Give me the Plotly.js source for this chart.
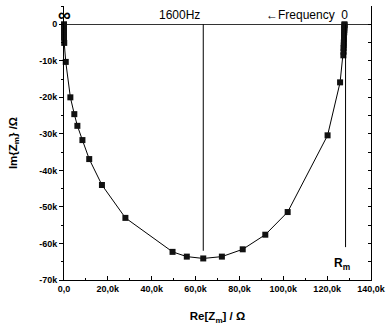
<!DOCTYPE html>
<html><head><meta charset="utf-8">
<script src="https://cdn.plot.ly/plotly-3.0.1.min.js"></script>
<style>html,body{margin:0;padding:0;background:#fff}#c{width:387px;height:331px}</style>
</head><body><div id="c"></div>
<script>
// Re[Zm] in kΩ, Im{Zm} in kΩ (high frequency at left -> low frequency at right)
var reZ = [0.0,0.0,0.0,0.0,0.0,0.0,0.0,0.0,0.1,0.8,2.9,4.7,6.1,8.4,11.5,17.3,28.0,49.5,56.0,63.5,72.0,81.5,91.8,102.0,120.2,125.9,127.4,127.5,127.5,127.6,127.6,127.7,127.7,127.7,127.8,127.8,127.8,127.9,127.9,127.9];
var imZ = [0.0,-0.5,-1.0,-1.5,-2.0,-2.5,-3.0,-3.6,-5.1,-10.3,-20.0,-24.6,-27.8,-31.7,-36.9,-44.0,-53.0,-62.3,-63.6,-64.1,-63.6,-61.6,-57.6,-51.4,-30.4,-15.9,-8.5,-7.5,-6.5,-5.8,-5.0,-4.2,-3.5,-2.8,-2.2,-1.6,-1.1,-0.6,-0.2,0.0];
var xTickVals = [0,20,40,60,80,100,120,140];
var xTickText = ['0,0','20,0k','40,0k','60,0k','80,0k','100,0k','120,0k','140,0k'];
var yTickVals = [0,-10,-20,-30,-40,-50,-60,-70];
var yTickText = ['0','-10k','-20k','-30k','-40k','-50k','-60k','-70k'];
var f1600Re = 63.5, f1600Im = -62;
var rmRe = 128.4, rmIm = -61;

var tickFont = {family:'Liberation Sans, Arial, sans-serif', size:9, color:'#000', weight:'bold'};
var data = [{
  x: reZ, y: imZ, type:'scatter', mode:'lines+markers',
  line:{color:'#000', width:1},
  marker:{symbol:'square', size:6, color:'#111'},
  showlegend:false, cliponaxis:false
},{
  x:[0], y:[0], yaxis:'y2', mode:'none', showlegend:false, hoverinfo:'skip'
}];
var layout = {
  width:387, height:331,
  margin:{l:64, r:16, t:6, b:51},
  paper_bgcolor:'#fff', plot_bgcolor:'#fff',
  font:{family:'Liberation Sans, Arial, sans-serif', color:'#000'},
  xaxis:{range:[0,140], tickvals:xTickVals, ticktext:xTickText, ticks:'inside', ticklen:4, tickcolor:'#000',
    minor:{dtick:10, tick0:0, ticks:'inside', ticklen:2, tickcolor:'#000'},
    showline:true, linecolor:'#000', linewidth:1, showgrid:false, zeroline:false, tickfont:tickFont,
    title:{text:'<b>Re[Z<sub>m</sub>] / Ω</b>', font:{size:11.5, family:'Liberation Sans, Arial, sans-serif'}, standoff:19}},
  yaxis:{range:[-70,5], tickvals:yTickVals, ticktext:yTickText, ticks:'outside', ticklen:4, tickcolor:'#000',
    minor:{dtick:5, tick0:0, ticks:'outside', ticklen:2, tickcolor:'#000'},
    showline:true, linecolor:'#000', linewidth:1, showgrid:false,
    zeroline:true, zerolinecolor:'#333', zerolinewidth:1, tickfont:tickFont,
    title:{text:'<b>Im{Z<sub>m</sub>} /Ω</b>', font:{size:11.5, family:'Liberation Sans, Arial, sans-serif'}, standoff:19}},
  yaxis2:{overlaying:'y', side:'right', range:[-70,5], dtick:5, tick0:0, ticks:'inside', ticklen:3, tickcolor:'#000',
    showticklabels:false, showline:true, linecolor:'#000', linewidth:1, showgrid:false, zeroline:false},
  shapes:[
    {type:'line', xref:'x', yref:'y', x0:f1600Re, x1:f1600Re, y0:0, y1:f1600Im, line:{color:'#000', width:1}},
    {type:'line', xref:'x', yref:'y', x0:rmRe, x1:rmRe, y0:0, y1:rmIm, line:{color:'#000', width:1}}
  ],
  annotations:[
    {x:0, y:2.6, xref:'x', yref:'y', text:'<b>∞</b>', showarrow:false, font:{size:18}},
    {x:f1600Re, y:2.5, xref:'x', yref:'y', text:'1600Hz', showarrow:false, xanchor:'right', xshift:-1, font:{size:12}},
    {x:rmRe, y:2.5, xref:'x', yref:'y', text:'←Frequency  0', showarrow:false, xanchor:'right', xshift:4, font:{size:12}},
    {x:rmRe, y:-65.5, xref:'x', yref:'y', text:'<b>R<sub>m</sub></b>', showarrow:false, xanchor:'center', xshift:-4, font:{size:12}}
  ]
};
Plotly.newPlot('c', data, layout, {staticPlot:true, displayModeBar:false});
</script></body></html>
